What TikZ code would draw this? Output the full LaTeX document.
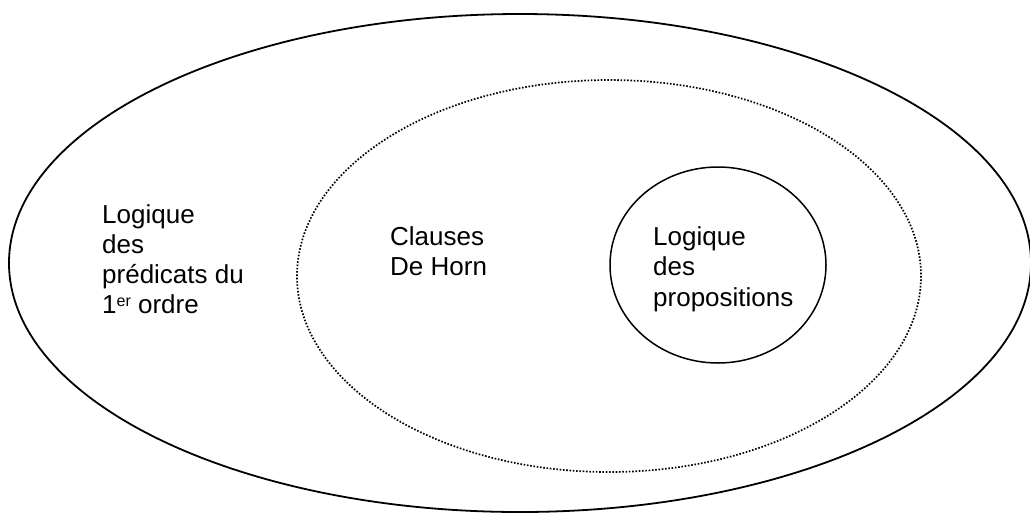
\documentclass[tikz,border=0pt]{standalone}
\usepackage{fontspec}
\setmainfont{Liberation Sans}
\begin{document}
\begin{tikzpicture}[x=1pt,y=-1pt,
  outerline/.style={draw=black,line width=1.8pt},
  dotline/.style={draw=black,line width=1.7pt,dash pattern=on 1.6pt off 1.7pt},
  innerline/.style={draw=black,line width=1.5pt},
  lbl/.style={anchor=base west,inner sep=0pt,font=\fontsize{26}{30}\selectfont}]
\useasboundingbox (0,0) rectangle (1030,512);
\draw[outerline] (520,263) ellipse [x radius=511, y radius=249];
\draw[dotline] (609,276) ellipse [x radius=312, y radius=196];
\draw[innerline] (718,265) ellipse [x radius=108, y radius=98];
\node[lbl] (a1) at (102,223) {Logique};
\node[lbl] (a2) at (102,253) {des};
\node[lbl] (a3) at (102,283) {prédicats du};
\node[lbl] (a4) at (102,313) {1{\fontsize{16}{16}\selectfont\raisebox{7pt}{er}} ordre};
\node[lbl] (b1) at (390,245) {Clauses};
\node[lbl] (b2) at (390,275) {De Horn};
\node[lbl] (c1) at (653,245) {Logique};
\node[lbl] (c2) at (653,275) {des};
\node[lbl] (c3) at (653,306) {propositions};
\end{tikzpicture}
\end{document}
